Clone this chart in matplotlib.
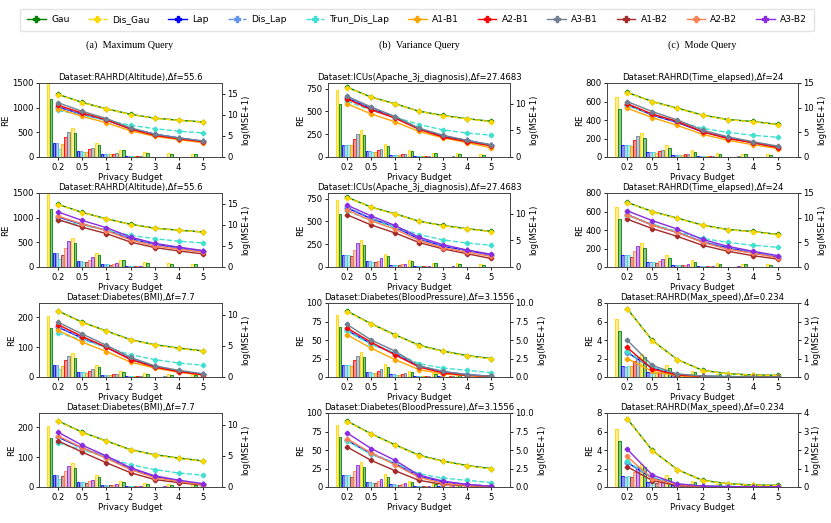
import numpy as np
import matplotlib
matplotlib.use("Agg")
import matplotlib.pyplot as plt
from matplotlib.lines import Line2D

# --------------------------------------------------
# data
# --------------------------------------------------
budgets = ["0.2", "0.5", "1", "2", "3", "4", "5"]
methods = ["Gau", "Dis_Gau", "Lap", "Dis_Lap", "Trun_Dis_Lap",
           "A1-B1", "A2-B1", "A3-B1", "A1-B2", "A2-B2", "A3-B2"]
colors = ["green", "gold", "blue", "cornflowerblue", "turquoise",
          "orange", "red", "slategray", "brown", "coral", "blueviolet"]

titles = ["Dataset:RAHRD(Altitude),\u0394f=55.6",
          "Dataset:ICUs(Apache_3j_diagnosis),\u0394f=27.4683",
          "Dataset:RAHRD(Time_elapsed),\u0394f=24",
          "Dataset:Diabetes(BMI),\u0394f=7.7",
          "Dataset:Diabetes(BloodPressure),\u0394f=3.1556",
          "Dataset:RAHRD(Max_speed),\u0394f=0.234"]
headers = ["(a)  Maximum Query", "(b)  Variance Query", "(c)  Mode Query"]

# RE (bars), rows follow `methods`
alt_re = [[1180, 487, 247, 133, 87, 67, 53],
          [1485, 587, 293, 147, 100, 80, 67],
          [280, 120, 67, 20, 8, 5, 3],
          [280, 113, 67, 20, 8, 5, 3],
          [170, 100, 60, 15, 7, 4, 2],
          [270, 100, 53, 15, 6, 4, 2],
          [400, 160, 67, 20, 8, 5, 3],
          [500, 187, 80, 25, 10, 6, 4],
          [250, 95, 50, 14, 6, 4, 2],
          [380, 150, 65, 19, 8, 5, 3],
          [520, 195, 85, 26, 10, 6, 4]]
alt_mse = [[14.8, 12.9, 11.4, 10.1, 9.2, 8.7, 8.3],
           [14.75, 12.85, 11.35, 10.05, 9.15, 8.65, 8.25],
           [11.8, 10.1, 8.7, 6.7, 5.4, 4.5, 3.7],
           [11.9, 10.2, 8.75, 6.75, 5.45, 4.55, 3.75],
           [11.0, 9.9, 8.7, 7.5, 6.7, 6.1, 5.7],
           [11.4, 9.6, 8.1, 6.2, 4.9, 4.1, 3.4],
           [12.2, 10.4, 8.8, 6.6, 5.1, 4.3, 3.6],
           [12.8, 10.8, 9.1, 6.9, 5.4, 4.5, 3.8],
           [11.2, 9.4, 7.9, 5.9, 4.6, 3.8, 3.1],
           [12.0, 10.2, 8.6, 6.4, 5.0, 4.2, 3.5],
           [13.0, 11.0, 9.3, 7.1, 5.6, 4.7, 3.9]]

icu_re = [[585, 238, 117, 62, 40, 37, 26],
          [732, 300, 146, 80, 48, 40, 33],
          [135, 62, 25, 10, 5, 3, 2],
          [135, 62, 25, 10, 5, 3, 2],
          [135, 60, 25, 9, 5, 3, 2],
          [135, 55, 25, 9, 4, 3, 2],
          [200, 73, 30, 11, 5, 3, 2],
          [255, 91, 35, 12, 6, 4, 2],
          [125, 52, 23, 8, 4, 3, 2],
          [190, 70, 29, 11, 5, 3, 2],
          [265, 95, 37, 13, 6, 4, 2]]
icu_mse = [[13.1, 11.25, 10.0, 8.6, 7.8, 7.2, 6.7],
           [13.05, 11.2, 9.95, 8.55, 7.75, 7.15, 6.65],
           [11.1, 9.1, 7.5, 5.3, 3.9, 3.1, 2.25],
           [11.2, 9.2, 7.6, 5.4, 4.0, 3.15, 2.3],
           [10.5, 8.75, 7.5, 6.1, 5.1, 4.5, 4.1],
           [10.0, 8.1, 6.6, 4.8, 3.6, 2.7, 1.75],
           [10.9, 8.9, 7.3, 5.2, 3.75, 2.9, 2.1],
           [11.4, 9.4, 7.6, 5.4, 4.1, 3.1, 2.3],
           [9.8, 7.9, 6.4, 4.6, 3.4, 2.5, 1.6],
           [10.7, 8.7, 7.1, 5.0, 3.6, 2.8, 2.0],
           [11.6, 9.6, 7.8, 5.6, 4.2, 3.2, 2.4]]

time_re = [[520, 207, 102, 58, 36, 29, 22],
           [647, 255, 135, 73, 47, 36, 29],
           [125, 51, 25, 8, 4, 3, 2],
           [125, 51, 25, 8, 4, 3, 2],
           [125, 50, 24, 8, 4, 3, 2],
           [116, 47, 22, 7, 4, 2, 1],
           [182, 62, 28, 9, 5, 3, 2],
           [225, 80, 35, 11, 6, 3, 2],
           [110, 45, 21, 7, 4, 2, 1],
           [175, 60, 27, 9, 5, 3, 2],
           [232, 83, 36, 11, 6, 3, 2]]
time_mse = [[13.1, 11.25, 9.9, 8.5, 7.6, 7.2, 6.6],
            [13.05, 11.2, 9.85, 8.45, 7.55, 7.15, 6.55],
            [10.6, 8.5, 7.0, 5.1, 3.9, 2.9, 2.0],
            [10.7, 8.6, 7.1, 5.2, 4.0, 3.0, 2.05],
            [10.4, 8.7, 7.2, 5.8, 5.0, 4.4, 4.0],
            [9.9, 8.0, 6.4, 4.6, 3.4, 2.5, 1.7],
            [10.8, 8.7, 7.2, 5.1, 3.75, 2.9, 1.9],
            [11.25, 9.2, 7.5, 5.45, 4.1, 3.1, 2.2],
            [9.7, 7.8, 6.2, 4.4, 3.2, 2.3, 1.6],
            [10.6, 8.5, 7.0, 5.0, 3.6, 2.8, 1.85],
            [11.4, 9.4, 7.7, 5.6, 4.2, 3.2, 2.3]]

bmi_re = [[164, 65, 34, 18, 11, 8, 7],
          [205, 80, 41, 21, 13, 11, 9],
          [41, 17, 8, 3, 1.5, 1, 0.5],
          [40, 17, 7, 3, 1.5, 1, 0.5],
          [28, 16, 7, 3, 1.5, 1, 0.5],
          [38, 15, 7, 2.5, 1, 0.8, 0.5],
          [58, 20, 9, 3, 1.5, 1, 0.5],
          [71, 27, 10, 3.5, 2, 1, 0.6],
          [36, 15, 6, 2.5, 1, 0.8, 0.5],
          [55, 20, 8, 3, 1.5, 1, 0.5],
          [70, 25, 10, 3.5, 2, 1, 0.6]]
bmi_mse = [[10.6, 8.8, 7.4, 6.0, 5.2, 4.65, 4.2],
           [10.55, 8.75, 7.35, 5.95, 5.15, 4.6, 4.15],
           [8.0, 6.25, 4.75, 2.9, 1.7, 0.9, 0.43],
           [8.1, 6.3, 4.8, 3.0, 1.75, 0.95, 0.45],
           [7.05, 6.0, 4.75, 3.6, 2.8, 2.25, 1.9],
           [7.5, 5.6, 4.1, 2.4, 1.45, 0.75, 0.3],
           [8.4, 6.5, 4.8, 2.8, 1.6, 0.86, 0.37],
           [8.8, 6.9, 5.1, 3.15, 1.8, 1.07, 0.53],
           [7.4, 5.6, 3.9, 2.3, 1.2, 0.7, 0.3],
           [8.2, 6.3, 4.6, 2.8, 1.5, 0.9, 0.4],
           [8.8, 6.7, 5.0, 3.1, 1.8, 1.1, 0.55]]

bp_re = [[67.5, 27, 13.5, 6.8, 4, 3, 2.3],
         [84, 34, 17.5, 8.5, 5.4, 4, 3],
         [16, 7, 4, 1.5, 0.7, 0.4, 0.3],
         [16, 7, 4, 1.5, 0.7, 0.4, 0.3],
         [16, 6, 3, 1.2, 0.6, 0.4, 0.2],
         [15, 6, 3, 1.0, 0.5, 0.3, 0.2],
         [23, 8, 4, 1.5, 0.7, 0.4, 0.3],
         [29, 11, 5, 2, 0.8, 0.5, 0.3],
         [14, 6, 3, 1.0, 0.5, 0.3, 0.2],
         [22, 8, 4, 1.5, 0.7, 0.4, 0.3],
         [30, 11, 5, 2, 0.8, 0.5, 0.3]]
bp_mse = [[8.9, 7.2, 5.7, 4.3, 3.5, 2.9, 2.5],
          [8.85, 7.15, 5.65, 4.25, 3.45, 2.85, 2.45],
          [6.3, 4.5, 3.15, 1.45, 0.7, 0.3, 0.1],
          [6.4, 4.6, 3.2, 1.5, 0.75, 0.35, 0.1],
          [6.2, 4.4, 3.25, 1.8, 1.2, 0.9, 0.6],
          [5.7, 3.9, 2.35, 1.0, 0.4, 0.2, 0.05],
          [6.6, 4.7, 3.0, 1.35, 0.55, 0.2, 0.1],
          [7.1, 5.0, 3.5, 1.5, 0.75, 0.3, 0.1],
          [5.4, 3.6, 2.2, 0.9, 0.35, 0.15, 0.05],
          [6.5, 4.6, 3.0, 1.3, 0.5, 0.2, 0.1],
          [7.3, 5.2, 3.6, 1.6, 0.8, 0.35, 0.1]]

speed_re = [[4.94, 2.16, 0.97, 0.54, 0.29, 0.22, 0.14],
            [6.27, 2.5, 1.26, 0.65, 0.36, 0.29, 0.22],
            [1.22, 0.5, 0.25, 0.1, 0.05, 0.03, 0.02],
            [1.08, 0.47, 0.24, 0.1, 0.05, 0.03, 0.02],
            [1.15, 0.47, 0.24, 0.1, 0.05, 0.03, 0.02],
            [1.15, 0.4, 0.2, 0.08, 0.04, 0.02, 0.01],
            [1.7, 0.58, 0.27, 0.1, 0.05, 0.03, 0.02],
            [2.16, 0.8, 0.3, 0.12, 0.06, 0.03, 0.02],
            [1.1, 0.4, 0.2, 0.08, 0.04, 0.02, 0.01],
            [1.65, 0.56, 0.26, 0.1, 0.05, 0.03, 0.02],
            [2.2, 0.82, 0.31, 0.12, 0.06, 0.03, 0.02]]
speed_mse = [[3.7, 1.98, 0.94, 0.36, 0.18, 0.11, 0.09],
             [3.68, 1.96, 0.93, 0.35, 0.17, 0.1, 0.08],
             [1.33, 0.49, 0.13, 0.04, 0.02, 0.01, 0.01],
             [1.3, 0.5, 0.14, 0.04, 0.02, 0.01, 0.01],
             [1.38, 0.54, 0.16, 0.06, 0.03, 0.02, 0.01],
             [1.0, 0.3, 0.07, 0.02, 0.01, 0.0, 0.0],
             [1.6, 0.43, 0.11, 0.03, 0.01, 0.01, 0.0],
             [2.0, 0.63, 0.16, 0.05, 0.02, 0.01, 0.01],
             [1.1, 0.35, 0.08, 0.02, 0.01, 0.0, 0.0],
             [1.65, 0.45, 0.12, 0.03, 0.01, 0.01, 0.0],
             [2.05, 0.65, 0.17, 0.05, 0.02, 0.01, 0.01]]

re_sets = [alt_re, icu_re, time_re, bmi_re, bp_re, speed_re]
mse_sets = [alt_mse, icu_mse, time_mse, bmi_mse, bp_mse, speed_mse]

re_lims = [(0, 1500), (0, 812), (0, 800), (0, 248), (0, 100), (0, 8)]
mse_lims = [(0, 17.5), (0, 13.9), (0, 15), (0, 11.9), (0, 10), (0, 4)]
re_ticks = [[0, 500, 1000, 1500], [0, 250, 500, 750], [0, 200, 400, 600, 800],
            [0, 100, 200], [0, 25, 50, 75, 100], [0, 2, 4, 6, 8]]
mse_ticks = [[0, 5, 10, 15], [0, 5, 10], [0, 5, 10, 15],
             [0, 5, 10], [0, 2.5, 5, 7.5, 10], [0, 1, 2, 3, 4]]

# --------------------------------------------------
# layout
# --------------------------------------------------
W, H = 831, 523
fig = plt.figure(figsize=(W / 100, H / 100), dpi=100)

col_left = [39, 328, 607]
col_w = [183, 182, 191]
row_top = [83, 193, 303, 413]
row_h = 74

fs = 6.1
x = np.arange(len(budgets))
bar_w = 0.12
bar_order = [1, 0, 2, 3, 4]  # Dis_Gau, Gau, Lap, Dis_Lap, Trun_Dis_Lap
dashed = {"Dis_Gau", "Dis_Lap", "Trun_Dis_Lap"}

for r in range(4):
    for c in range(3):
        d = c if r < 2 else c + 3
        re = re_sets[d]
        mse = mse_sets[d]
        a_idx = [5, 6, 7] if r % 2 == 0 else [8, 9, 10]
        series = bar_order + a_idx

        ax = fig.add_axes([col_left[c] / W, 1 - (row_top[r] + row_h) / H,
                           col_w[c] / W, row_h / H])
        for k, m in enumerate(series):
            off = (k - 3.5) * bar_w
            ax.bar(x + off, re[m], width=bar_w * 0.9,
                   color=matplotlib.colors.to_rgba(colors[m], 0.45),
                   edgecolor=colors[m], linewidth=0.6)
        ax.set_xlim(-0.8, 6.8)
        ax.set_ylim(*re_lims[d])
        ax.set_yticks(re_ticks[d])
        ax.set_xticks(x)
        ax.set_xticklabels(budgets)
        ax.tick_params(labelsize=fs, length=2.5, width=0.6, pad=1.5)
        ax.set_ylabel("RE", fontsize=fs, labelpad=1)
        ax.set_xlabel("Privacy Budget", fontsize=fs, labelpad=1)
        ax.set_title(titles[d], fontsize=fs, pad=2)

        ax2 = ax.twinx()
        line_order = [0, 1, 2, 3, 4] + a_idx
        for m in line_order:
            ls = "--" if methods[m] in dashed else "-"
            ax2.plot(x, mse[m], color=colors[m], linestyle=ls, linewidth=1.0,
                     marker="P", markersize=3)
        ax2.set_ylim(*mse_lims[d])
        ax2.set_yticks(mse_ticks[d])
        ax2.tick_params(labelsize=fs, length=2.5, width=0.6, pad=1.5)
        ax2.set_ylabel("log(MSE+1)", fontsize=fs, labelpad=2)
        for sp in list(ax.spines.values()) + list(ax2.spines.values()):
            sp.set_linewidth(0.6)
            sp.set_color("#444444")

centers = [130, 419, 702]
for c in range(3):
    fig.text(centers[c] / W, 1 - 45 / H, headers[c], ha="center", va="center",
             fontsize=7.4, family="Liberation Serif")

handles = []
for m in range(len(methods)):
    ls = "--" if methods[m] in dashed else "-"
    handles.append(Line2D([], [], color=colors[m], linestyle=ls, linewidth=1.0,
                          marker="P", markersize=4))
fig.legend(handles, methods, loc="upper center", ncol=11,
           bbox_to_anchor=(0.502, 1 - 4 / H), fontsize=6.6, frameon=True,
           handlelength=2.0, columnspacing=2.05, handletextpad=0.6,
           borderpad=0.75, fancybox=True, edgecolor="#dddddd")

fig.savefig("out.png", dpi=100)
